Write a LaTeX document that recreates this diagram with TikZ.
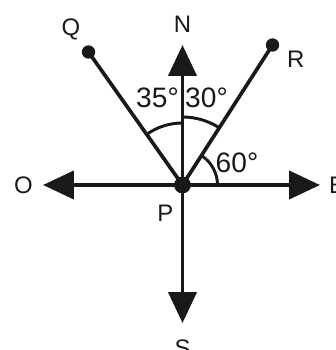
\documentclass[tikz,border=0pt]{standalone}
\usepackage{fontspec}
\setmainfont{Liberation Sans}
\usetikzlibrary{arrows.meta,positioning,angles}

\begin{document}
\begin{tikzpicture}[
  x=0.025cm, y=0.025cm,
  font=\fontsize{17}{20}\selectfont,
  ink/.style={draw=black!90, line width=2.6pt},
  arr/.style={ink, -{Triangle[length=22pt, width=20pt]}},
  dot/.style={circle, fill=black!90, inner sep=0pt, minimum size=#1},
  lbl/.style={inner sep=0pt, text=black!90},
  deg/.style={lbl, font=\fontsize{20}{22}\selectfont},
  arc/.style={draw=black!90, line width=2.1pt}
]
\useasboundingbox (-182.5,-165) rectangle (153.5,185);

% --- point P and the four directions ---
\coordinate (P) at (0,0);
\coordinate (N) at (0,140);
\coordinate (S) at (0,-138);
\coordinate (O) at (-139.5,0);
\coordinate (E) at (137.5,0);

\draw[arr] (P) -- (N);
\draw[arr] (P) -- (S);
\draw[arr] (P) -- (O);
\draw[arr] (P) -- (E);

% --- rays PQ and PR ---
\coordinate (Q) at (-94,133);
\coordinate (R) at (90,140);
\draw[ink] (P) -- (Q);
\draw[ink] (P) -- (R);
\node[dot=9.5pt] (qdot) at (Q) {};
\node[dot=9.5pt] (rdot) at (R) {};
\node[dot=12pt] (pdot) at (P) {};

% --- angles ---
\pic[arc, angle radius=1.55cm] {angle=N--P--Q};
\pic[arc, angle radius=1.7cm] {angle=R--P--N};
\pic[arc, angle radius=0.875cm] {angle=E--P--R};

\node[deg] (a35) at (-25,87) {35°};
\node[deg] (a30) at (24,87) {30°};
\node[deg] (a60) at (54.5,22) {60°};

% --- labels ---
\node[lbl, above=3mm of N] (nlbl) {N};
\node[lbl, below=4.2mm of S] (slbl) {S};
\node[lbl, left=2.5mm of O] (olbl) {O};
\node[lbl, right=2.2mm of E] (elbl) {E};
\node[lbl, above left=3mm and 2mm of Q] (qlbl) {Q};
\node[lbl, below right=1.5mm and 3.6mm of R] (rlbl) {R};
\node[lbl, below left=5mm and 2.2mm of P] (plbl) {P};

\end{tikzpicture}
\end{document}
